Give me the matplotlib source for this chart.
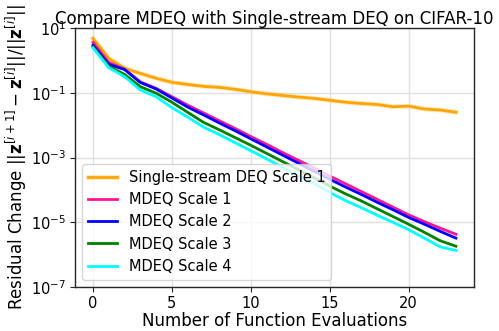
import matplotlib
matplotlib.use("Agg")
import matplotlib.pyplot as plt
import matplotlib.patheffects as pe
import numpy as np

evals = list(range(24))

# log10 of residual change
single_log = [0.68, 0.065, -0.24, -0.40, -0.55, -0.676, -0.74, -0.80, -0.83, -0.89,
              -0.966, -1.03, -1.08, -1.13, -1.17, -1.23, -1.29, -1.33, -1.36, -1.43,
              -1.41, -1.50, -1.53, -1.60]
scale1_log = [0.56, -0.06, -0.27, -0.66, -0.86, -1.12, -1.38, -1.62, -1.86, -2.10,
              -2.35, -2.59, -2.84, -3.08, -3.32, -3.57, -3.81, -4.05, -4.29, -4.53,
              -4.77, -4.98, -5.18, -5.37]
scale2_log = [0.475, -0.12, -0.28, -0.68, -0.88, -1.16, -1.44, -1.68, -1.93, -2.17,
              -2.42, -2.67, -2.92, -3.17, -3.42, -3.67, -3.91, -4.14, -4.38, -4.61,
              -4.85, -5.06, -5.28, -5.49]
scale3_log = [0.42, -0.18, -0.43, -0.81, -1.01, -1.29, -1.60, -1.91, -2.14, -2.38,
              -2.62, -2.87, -3.12, -3.37, -3.62, -3.88, -4.12, -4.34, -4.58, -4.82,
              -5.06, -5.31, -5.57, -5.74]
scale4_log = [0.39, -0.225, -0.50, -0.91, -1.12, -1.46, -1.75, -2.06, -2.29, -2.54,
              -2.79, -3.04, -3.30, -3.55, -3.80, -4.08, -4.33, -4.55, -4.78, -5.00,
              -5.23, -5.49, -5.76, -5.87]

labels = ["Single-stream DEQ Scale 1", "MDEQ Scale 1", "MDEQ Scale 2",
          "MDEQ Scale 3", "MDEQ Scale 4"]
colors = ["orange", "deeppink", "blue", "green", "cyan"]
series = [single_log, scale1_log, scale2_log, scale3_log, scale4_log]

fig = plt.figure(figsize=(4.99, 3.31), dpi=100)
ax = fig.add_axes([0.150, 0.133, 0.800, 0.782])

for i, (lab, col, s) in enumerate(zip(labels, colors, series)):
    vals = 10.0 ** np.array(s)
    effects = [pe.Stroke(linewidth=3.5, foreground=col, alpha=0.25), pe.Normal()] if i == 0 else None
    ax.plot(evals, vals, color=col, lw=2, label=lab, path_effects=effects)

ax.set_yscale("log")
ax.set_ylim(1e-7, 1e1)
ax.set_yticks([1e-7, 1e-5, 1e-3, 1e-1, 1e1])
ax.minorticks_off()
ax.set_xticks([0, 5, 10, 15, 20])
ax.grid(True, color="#e0e0e0", lw=1)
ax.set_axisbelow(True)
for sp in ax.spines.values():
    sp.set_color("0.15")
    sp.set_linewidth(1.0)
ax.tick_params(labelsize=10.5, length=3.5, pad=3, color="0.15")

ax.set_title("Compare MDEQ with Single-stream DEQ on CIFAR-10", fontsize=12, pad=3)
ax.set_xlabel("Number of Function Evaluations", fontsize=12, labelpad=1)
ax.set_ylabel(r"Residual Change $||\mathbf{z}^{[i+1]}-\mathbf{z}^{[i]}||/||\mathbf{z}^{[i]}||$",
              fontsize=12, labelpad=1)
ax.legend(loc="lower left", fontsize=10.5, handlelength=2, framealpha=0.8,
          borderaxespad=0.5)

fig.savefig("out.png", dpi=100)
